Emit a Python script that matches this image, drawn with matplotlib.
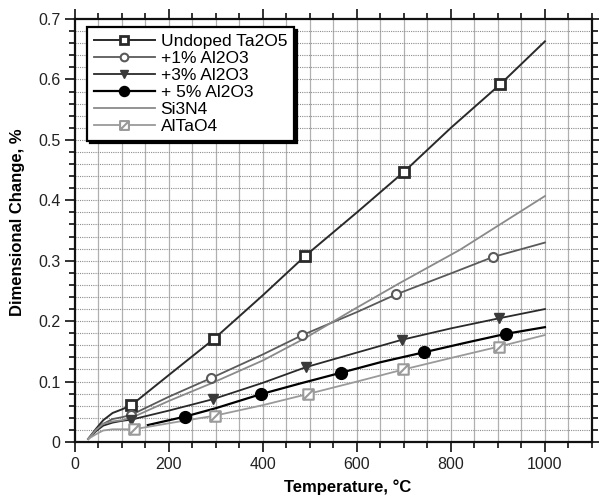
import numpy as np
import matplotlib
matplotlib.use('Agg')
import matplotlib.pyplot as plt
from matplotlib.path import Path
from matplotlib.ticker import MultipleLocator, FuncFormatter

plt.rcParams['font.family'] = ['Liberation Sans', 'DejaVu Sans']

# --- data (Temperature in degC, dimensional change in %) ---
undoped_t = [28, 45, 60, 80, 100, 120, 200, 295, 400, 490, 600, 700, 800, 905, 1000]
undoped_y = [0.005, 0.022, 0.036, 0.048, 0.054, 0.061, 0.111, 0.170, 0.243, 0.308,
             0.380, 0.447, 0.520, 0.592, 0.663]
undoped_mt = [120, 295, 490, 700, 905]
undoped_my = [0.061, 0.170, 0.308, 0.447, 0.592]

al1_t = [28, 45, 60, 80, 100, 120, 200, 289, 400, 484, 600, 684, 800, 889, 1000]
al1_y = [0.005, 0.020, 0.030, 0.038, 0.041, 0.045, 0.075, 0.1055, 0.145, 0.177,
         0.215, 0.2445, 0.279, 0.306, 0.330]
al1_mt = [120, 289, 484, 684, 889]
al1_my = [0.045, 0.1055, 0.177, 0.2445, 0.306]

al3_t = [28, 45, 60, 80, 100, 120, 200, 293, 400, 491, 600, 695, 800, 903, 1000]
al3_y = [0.005, 0.018, 0.027, 0.032, 0.035, 0.037, 0.052, 0.0707, 0.098, 0.1237,
         0.148, 0.169, 0.188, 0.2048, 0.220]
al3_mt = [120, 293, 491, 695, 903]
al3_my = [0.037, 0.0707, 0.1237, 0.169, 0.2048]

al5_t = [155, 234, 300, 395, 480, 567, 650, 743, 830, 917, 1000]
al5_y = [0.028, 0.042, 0.056, 0.079, 0.097, 0.1148, 0.132, 0.1485, 0.164, 0.179, 0.190]
al5_mt = [234, 395, 567, 743, 917]
al5_my = [0.042, 0.079, 0.1148, 0.1485, 0.179]

si3n4_t = [28, 45, 60, 80, 100, 120, 200, 290, 400, 490, 590, 691, 819, 1000]
si3n4_y = [0.005, 0.020, 0.030, 0.034, 0.036, 0.040, 0.068, 0.097, 0.135, 0.172,
           0.218, 0.263, 0.318, 0.407]

altao4_t = [28, 45, 60, 80, 100, 125, 200, 298, 400, 496, 600, 699, 800, 903, 1000]
altao4_y = [0.005, 0.013, 0.019, 0.021, 0.021, 0.021, 0.031, 0.0436, 0.061, 0.0795,
            0.100, 0.120, 0.139, 0.158, 0.177]
altao4_mt = [125, 298, 496, 699, 903]
altao4_my = [0.021, 0.0436, 0.0795, 0.120, 0.158]

# square with a diagonal (AlTaO4 marker)
box_diag = Path([(-1, -1), (1, -1), (1, 1), (-1, 1), (-1, -1), (-1, -1), (1, 1)],
                [Path.MOVETO, Path.LINETO, Path.LINETO, Path.LINETO, Path.CLOSEPOLY,
                 Path.MOVETO, Path.LINETO])

fig = plt.figure(figsize=(5.99, 4.95), dpi=100)
ax = fig.add_axes([0.1252, 0.1071, 0.863, 0.8545])

# grid: solid vertical every 50, dotted horizontal every 0.02
for xv in np.arange(50, 1100, 50):
    ax.axvline(xv, color='#b0b0b0', lw=0.9, zorder=0)
for yv in np.arange(0.02, 0.70, 0.02):
    ax.axhline(yv, color='#8c8c8c', lw=0.8, ls=(0, (1, 1)), zorder=0)

series = [
    (undoped_t, undoped_y, undoped_mt, undoped_my, 'Undoped Ta2O5', '#2a2a2a', 1.4,
     dict(marker='s', ms=7.5, mfc='white', mec='#2a2a2a', mew=2.0)),
    (al1_t, al1_y, al1_mt, al1_my, '+1% Al2O3', '#5a5a5a', 1.3,
     dict(marker='o', ms=6.5, mfc='white', mec='#5a5a5a', mew=1.5)),
    (al3_t, al3_y, al3_mt, al3_my, '+3% Al2O3', '#2a2a2a', 1.3,
     dict(marker='v', ms=7.5, mfc='#3a3a3a', mec='#3a3a3a', mew=1.0)),
    (al5_t, al5_y, al5_mt, al5_my, '+ 5% Al2O3', '#000000', 1.6,
     dict(marker='o', ms=8.5, mfc='black', mec='black', mew=1.0)),
    (si3n4_t, si3n4_y, None, None, 'Si3N4', '#8a8a8a', 1.3, None),
    (altao4_t, altao4_y, altao4_mt, altao4_my, 'AlTaO4', '#9a9a9a', 1.3,
     dict(marker=box_diag, ms=7.5, mfc='white', mec='#9a9a9a', mew=1.5)),
]

handles = []
for t, y, mt, my, label, color, lw, mk in series:
    ax.plot(t, y, color=color, lw=lw, zorder=3)
    if mk is not None:
        ax.plot(mt, my, ls='none', zorder=4, **mk)
        h, = ax.plot([], [], color=color, lw=lw, **mk)
    else:
        h, = ax.plot([], [], color=color, lw=lw)
    h.set_label(label)
    handles.append(h)

ax.set_xlim(0, 1100)
ax.set_ylim(0, 0.7)
ax.xaxis.set_major_locator(MultipleLocator(200))
ax.xaxis.set_minor_locator(MultipleLocator(50))
ax.yaxis.set_major_locator(MultipleLocator(0.1))
ax.yaxis.set_minor_locator(MultipleLocator(0.02))
ax.xaxis.set_major_formatter(FuncFormatter(lambda v, p: f'{int(round(v))}' if v <= 1000 else ''))
ax.yaxis.set_major_formatter(FuncFormatter(lambda v, p: '0' if abs(v) < 1e-9 else f'{v:.1f}'))

ax.tick_params(which='both', direction='out', top=True, right=True, width=1.3,
               labelsize=11.5, colors='#222222')
ax.tick_params(which='major', length=7)
ax.tick_params(which='minor', length=4)
for s in ax.spines.values():
    s.set_linewidth(1.6)
    s.set_color('#111111')

ax.set_xlabel('Temperature, °C', fontsize=12, fontweight='bold')
ax.set_ylabel('Dimensional Change, %', fontsize=12, fontweight='bold')
ax.xaxis.set_label_coords(0.528, -0.088)
ax.yaxis.set_label_coords(-0.097, 0.52)

leg = ax.legend(handles=handles, loc='upper left', bbox_to_anchor=(0.023, 0.981),
                borderaxespad=0, fontsize=12.5, frameon=True, fancybox=False,
                framealpha=1, edgecolor='black', handlelength=3.5, handletextpad=0.35,
                labelspacing=0.1, borderpad=0.4, markerscale=0.85,
                shadow={'color': 'black', 'alpha': 1.0})
leg.get_frame().set_linewidth(1.6)
leg.set_zorder(10)

fig.savefig('out.png', dpi=100)
